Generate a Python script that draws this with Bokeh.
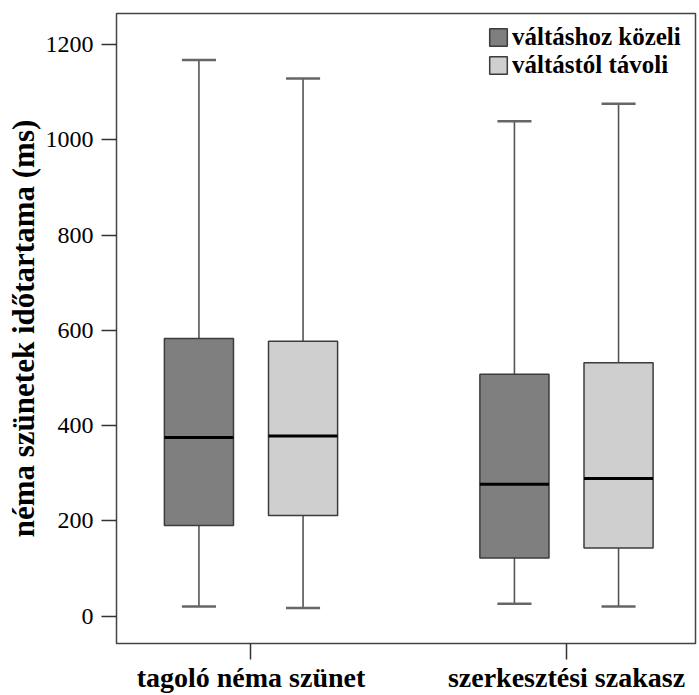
from bokeh.plotting import figure
from bokeh.models import Range1d, FixedTicker, Legend, LegendItem, ColumnDataSource
from bokeh.core.properties import value
from bokeh.embed import file_html
from bokeh.resources import INLINE

# ---- data ----
categories = ["tagoló néma szünet", "szerkesztési szakasz"]
series_names = ["váltáshoz közeli", "váltástól távoli"]

kozeli_low = [20, 26]
kozeli_q1 = [190, 122]
kozeli_median = [375, 277]
kozeli_q3 = [583, 508]
kozeli_high = [1168, 1039]

tavoli_low = [17, 20]
tavoli_q1 = [211, 143]
tavoli_median = [378, 289]
tavoli_q3 = [577, 532]
tavoli_high = [1129, 1076]

y_ticks = [0, 200, 400, 600, 800, 1000, 1200]

series_data = [
    dict(low=kozeli_low, q1=kozeli_q1, med=kozeli_median, q3=kozeli_q3, high=kozeli_high),
    dict(low=tavoli_low, q1=tavoli_q1, med=tavoli_median, q3=tavoli_q3, high=tavoli_high),
]

# ---- styling / layout ----
FONT = "'Liberation Serif', 'DejaVu Serif', serif"
fills = ["#7f7f7f", "#cfcfcf"]
offsets = [-0.165, 0.165]
box_w = 0.219
cap_w = 0.108
line_col = "#3c3c3c"

p = figure(width=699, height=695, output_backend="svg", toolbar_location=None,
           x_range=Range1d(0.5737, 2.4089), y_range=Range1d(-57.6, 1265.5),
           min_border_left=116, min_border_right=4, min_border_top=13, min_border_bottom=50)

p.xgrid.visible = False
p.ygrid.visible = False
p.outline_line_color = "#444444"
p.outline_line_width = 1.5
p.background_fill_color = "white"
p.border_fill_color = "white"

renderers = []
for j, sd in enumerate(series_data):
    xs = [i + 1 + offsets[j] for i in range(len(categories))]
    src = ColumnDataSource(dict(
        x=xs,
        x0=[x - cap_w / 2 for x in xs],
        x1=[x + cap_w / 2 for x in xs],
        bx0=[x - box_w / 2 for x in xs],
        bx1=[x + box_w / 2 for x in xs],
        low=sd["low"], q1=sd["q1"], med=sd["med"], q3=sd["q3"], high=sd["high"],
    ))
    # whiskers
    p.segment(x0="x", y0="q3", x1="x", y1="high", source=src, line_color="#555555", line_width=1.6)
    p.segment(x0="x", y0="q1", x1="x", y1="low", source=src, line_color="#555555", line_width=1.6)
    # caps
    p.segment(x0="x0", y0="high", x1="x1", y1="high", source=src, line_color="#666666", line_width=2.5)
    p.segment(x0="x0", y0="low", x1="x1", y1="low", source=src, line_color="#666666", line_width=2.5)
    # boxes
    r = p.vbar(x="x", width=box_w, bottom="q1", top="q3", source=src,
               fill_color=fills[j], line_color=line_col, line_width=1.5)
    renderers.append(r)
    # medians
    p.segment(x0="bx0", y0="med", x1="bx1", y1="med", source=src, line_color="black", line_width=3)

# ---- axes ----
p.xaxis.ticker = FixedTicker(ticks=list(range(1, len(categories) + 1)))
p.xaxis.major_label_overrides = {i + 1: c for i, c in enumerate(categories)}
p.xaxis.major_label_text_font = FONT
p.xaxis.major_label_text_font_size = "28px"
p.xaxis.major_label_text_font_style = "bold"
p.xaxis.major_label_text_color = "black"
p.xaxis.major_label_standoff = 2
p.xaxis.major_tick_out = 16
p.xaxis.major_tick_in = 0
p.xaxis.minor_tick_line_color = None
p.xaxis.major_tick_line_color = "#333333"
p.xaxis.major_tick_line_width = 1.5
p.xaxis.axis_line_color = None

p.yaxis.ticker = FixedTicker(ticks=y_ticks)
p.yaxis.major_label_text_font = FONT
p.yaxis.major_label_text_font_size = "24px"
p.yaxis.major_label_text_color = "black"
p.yaxis.major_label_standoff = 8
p.yaxis.major_tick_out = 15
p.yaxis.major_tick_in = 0
p.yaxis.minor_tick_line_color = None
p.yaxis.major_tick_line_color = "#333333"
p.yaxis.major_tick_line_width = 1.5
p.yaxis.axis_line_color = None
p.yaxis.axis_label = "néma szünetek időtartama (ms)"
p.yaxis.axis_label_text_font = FONT
p.yaxis.axis_label_text_font_size = "31px"
p.yaxis.axis_label_text_font_style = "bold"
p.yaxis.axis_label_text_color = "black"
p.yaxis.axis_label_standoff = 2

# ---- legend ----
legend = Legend(items=[LegendItem(label=series_names[j], renderers=[renderers[j]]) for j in range(2)],
                location=(371, 564), padding=0, margin=0, spacing=0,
                glyph_width=22, glyph_height=22, label_standoff=3, label_height=22,
                label_text_font=FONT, label_text_font_size="25px", label_text_font_style="bold",
                label_text_color="black", border_line_color=None, background_fill_alpha=0)
p.add_layout(legend)

open("out.html", "w").write(file_html(p, INLINE))
